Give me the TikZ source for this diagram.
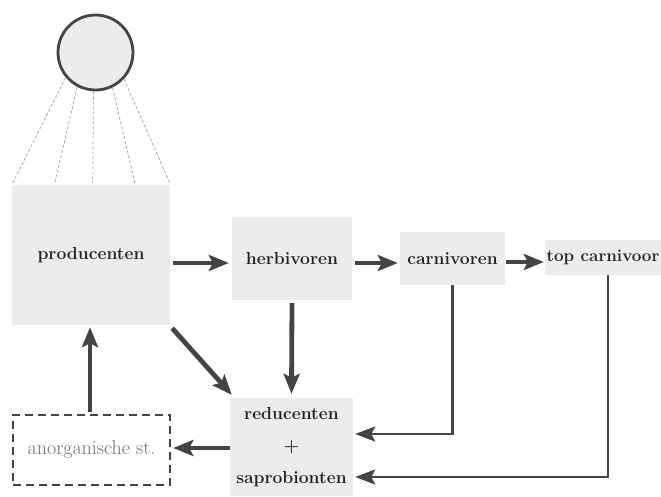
\documentclass[tikz,border=0pt]{standalone}
\usetikzlibrary{arrows.meta,calc}
\definecolor{arrowc}{RGB}{68,68,68}
\definecolor{boxc}{RGB}{236,236,236}
\definecolor{txtc}{RGB}{35,35,35}
\definecolor{softc}{RGB}{112,112,112}
\definecolor{rayc}{RGB}{160,160,160}
\begin{document}
\begin{tikzpicture}[x=1pt,y=-1pt,
  box/.style={fill=boxc, draw=none, inner sep=0pt, font=\fontsize{17.5}{20}\selectfont\bfseries, text=txtc},
  arr/.style={draw=arrowc, line width=4.8pt, -{Stealth[length=20pt,width=16pt,inset=4pt]}},
  thinarr/.style={draw=arrowc, line width=2.6pt, -{Stealth[length=20pt,width=15pt,inset=4pt]}},
  ray/.style={draw=rayc, line width=0.7pt, dash pattern=on 3pt off 2pt}]
\useasboundingbox (0,0) rectangle (661,496);
\node[circle, fill=boxc, draw=arrowc, line width=2.8pt, minimum size=75pt, inner sep=0pt] (sun) at (95.5,52.5) {};
\node[box, minimum width=158pt, minimum height=140pt] (prod) at (91,255) {producenten};
\node[box, minimum width=120pt, minimum height=83pt] (herb) at (292,258.5) {herbivoren};
\node[box, minimum width=105pt, minimum height=53pt] (carn) at (452.5,258.5) {carnivoren};
\node[box, minimum width=116pt, minimum height=35pt, font=\fontsize{17}{20}\selectfont\bfseries] (top) at (603,257.5) {top carnivoor};
\node[box, minimum width=123pt, minimum height=98pt, align=center, font=\fontsize{17.5}{32}\selectfont\bfseries] (red) at (291.5,447) {reducenten\\+\\saprobionten};
\node[draw=arrowc, line width=2.5pt, dash pattern=on 8pt off 5pt, minimum width=157pt, minimum height=70pt, inner sep=0pt, text=softc, font=\fontsize{20}{22}\selectfont] (anorg) at (91.5,450) {anorganische st.};
% rays
\draw[ray] (sun.-140) -- ($(prod.north west)+(1,-2)$);
\draw[ray] (sun.-118) -- ($(prod.north west)+(43,-2)$);
\draw[ray] (sun.-93) -- ($(prod.north west)+(81,-2)$);
\draw[ray] (sun.-64) -- ($(prod.north west)+(123,-2)$);
\draw[ray] (sun.-43) -- ($(prod.north west)+(158,-2)$);
% arrows
\draw[arr] ($(prod.east)+(3,8)$) -- ($(herb.west)+(-3,4.5)$);
\draw[arr] ($(herb.east)+(3,4.5)$) -- ($(carn.west)+(-2,4.5)$);
\draw[arr] ($(carn.east)+(1,3.5)$) -- ($(top.west)+(-1,4.5)$);
\draw[arr] ($(herb.south)+(0,3)$) -- ($(red.north)+(0,-4)$);
\draw[arr] ($(prod.south east)+(2,3)$) -- ($(red.north west)+(2,-3)$);
\draw[arr] ($(red.west)+(0,1)$) -- ($(anorg.east)+(2,-2)$);
\draw[arr] ($(anorg.north)+(-1.5,-2)$) -- ($(prod.south)+(-1,2)$);
\draw[thinarr] (carn.south) |- ($(red.east)+(2,-13)$);
\draw[thinarr] ($(top.south)+(5,0)$) |- ($(red.east)+(2,30)$);
\end{tikzpicture}
\end{document}
